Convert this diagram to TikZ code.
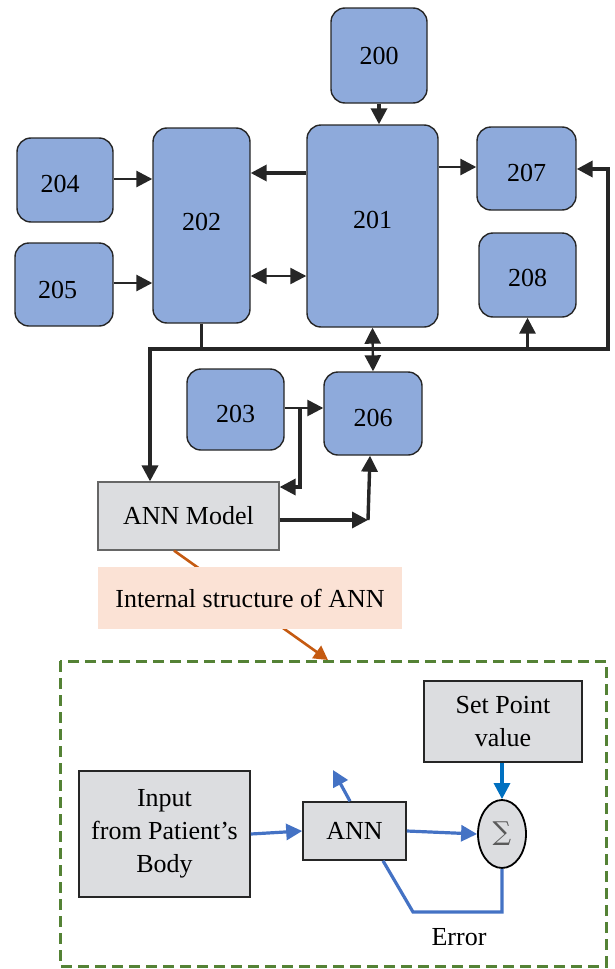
\documentclass[tikz,border=0pt]{standalone}
\usepackage{fontspec}
\setmainfont{Liberation Serif}
\newfontfamily\symfnt{DejaVu Serif}
\usetikzlibrary{arrows.meta,shapes.geometric}
\definecolor{boxblue}{RGB}{142,170,219}
\definecolor{boxgray}{RGB}{220,221,224}
\definecolor{peach}{RGB}{251,226,213}
\definecolor{rust}{RGB}{197,90,17}
\definecolor{dgreen}{RGB}{84,130,53}
\definecolor{lblue}{RGB}{68,114,196}
\definecolor{sblue}{RGB}{0,112,192}
\definecolor{edge}{RGB}{38,38,38}
\begin{document}
\begin{tikzpicture}[x=1pt,y=-1pt,
  txt/.style={font=\fontsize{26}{33}\selectfont},
  bbox/.style={txt,draw=edge,line width=1.4pt,fill=boxblue,rounded corners=14pt,inner sep=0pt},
  gbox/.style={txt,draw=edge,line width=1.6pt,fill=boxgray,inner sep=0pt,align=center},
  tip/.tip={Triangle[length=16pt,width=16pt]},
  conn/.style={draw=edge,line width=3.4pt,-tip},
  conn2/.style={draw=edge,line width=2.4pt,tip-tip},
  wire/.style={draw=edge,line width=3pt},
  bconn/.style={draw=lblue,line width=3.2pt,-{Triangle[length=16pt,width=16pt]}},
  bline/.style={draw=lblue,line width=3.2pt}
]
\useasboundingbox (0,0) rectangle (615,969);

% upper block diagram
\node[bbox,minimum width=96pt,minimum height=95pt] (n200) at (379,55.5) {200};
\node[bbox,minimum width=131pt,minimum height=202pt,text depth=12pt] (n201) at (372.5,226) {201};
\node[bbox,minimum width=97pt,minimum height=195pt,text depth=7pt] (n202) at (201.5,225.5) {202};
\node[bbox,minimum width=96pt,minimum height=84pt,text height=25.6pt] (n204) at (65,180) {204\kern10pt};
\node[bbox,minimum width=98pt,minimum height=83pt,text height=28.6pt] (n205) at (64,284.5) {205\kern13pt};
\node[bbox,minimum width=99pt,minimum height=83pt,text height=26.6pt] (n207) at (526.5,168.5) {207};
\node[bbox,minimum width=97pt,minimum height=84pt,text height=23.6pt] (n208) at (527.5,275) {208};
\node[bbox,minimum width=97pt,minimum height=81pt,text height=26.6pt] (n203) at (235.5,409.5) {203};
\node[bbox,minimum width=98pt,minimum height=83pt,text height=26.6pt] (n206) at (373,413.5) {206};
\node[gbox,line width=1.2pt,draw=black!60,minimum width=181pt,minimum height=68pt] (nann) at (188.5,516) {ANN Model};

% helper coordinates
\coordinate (c173) at (300,173);
\coordinate (c276) at (300,276);
\coordinate (c179) at (130,179);
\coordinate (c283) at (130,283);
\coordinate (c167) at (455,167);
\coordinate (busL) at (150,349);
\coordinate (busR) at (608,349);
\coordinate (busT) at (608,169);
\coordinate (br) at (300,408);
\coordinate (br2) at (300,487);
\coordinate (k) at (368,520);

\draw[conn] (n200.south) -- (n200.south |- n201.north);
\draw[conn] (n201.west |- c173) -- (n202.east |- c173);
\draw[conn2] (n202.east |- c276) -- (n201.west |- c276);
\draw[conn,line width=2.8pt] (n204.east |- c179) -- (n202.west |- c179);
\draw[conn,line width=2.8pt] (n205.east |- c283) -- (n202.west |- c283);
\draw[conn,line width=2.8pt] (n201.east |- c167) -- (n207.west |- c167);
\draw[wire] (n202.south) -- (n202.south |- busL);
\draw[draw=edge,line width=3.6pt,line join=miter,tip-tip]
  (busL |- nann.north) -- (busL) -- (busR) -- (busT) -- (n207.east |- busT);
\draw[conn,line width=3pt] (n208.south |- busL) -- (n208.south);
\draw[conn2] (n201.south) -- (n206.north);
\draw[conn,line width=2.6pt] (n203.east |- br) -- (n206.west |- br);
\draw[conn] (br) -- (br2) -- (nann.east |- br2);
\draw[conn] (nann.east |- k) -- (k);
\draw[conn] (k) -- ([xshift=-3pt]n206.south);

% link to internal structure
\coordinate (o2) at (328,660);
\draw[draw=rust,line width=2.6pt,-{Triangle[length=14pt,width=15pt]}] ([xshift=-14.5pt]nann.south) -- (o2);
\node[txt,fill=peach,minimum width=304pt,minimum height=62pt,inner sep=0pt] (lab) at (250,598) {Internal structure of ANN};

% internal structure
\draw[draw=dgreen,line width=3pt,dash pattern=on 11pt off 6pt] (60,661) rectangle (606,966);
\node[gbox,minimum width=158pt,minimum height=81pt] (nset) at (503,721.5) {Set Point\\value};
\node[gbox,minimum width=171pt,minimum height=126pt] (ninp) at (164.5,834) {Input\\from Patient’s\\Body};
\node[gbox,minimum width=103pt,minimum height=58pt] (nANN) at (354.5,831) {ANN};
\node[ellipse,draw=black,line width=1.8pt,fill=boxgray,minimum width=48pt,minimum height=68pt,inner sep=0pt] (sig) at (502,834) {\color{black!65}\symfnt\fontsize{26}{26}\selectfont ∑};

\coordinate (up) at (333,770);
\coordinate (e) at (413,912);
\draw[bconn] (ninp.east) -- (nANN.west);
\draw[bconn] (nANN.east) -- (sig.west);
\draw[bconn,draw=sblue] (nset.south -| sig.north) -- (sig.north);
\draw[bconn] ([xshift=-4.5pt]nANN.north) -- (up);
\draw[bline] (sig.south) -- (sig.south |- e) -- (e) -- ([xshift=28.5pt]nANN.south);
\node[txt] (err) at (459,937) {Error};
\end{tikzpicture}
\end{document}
